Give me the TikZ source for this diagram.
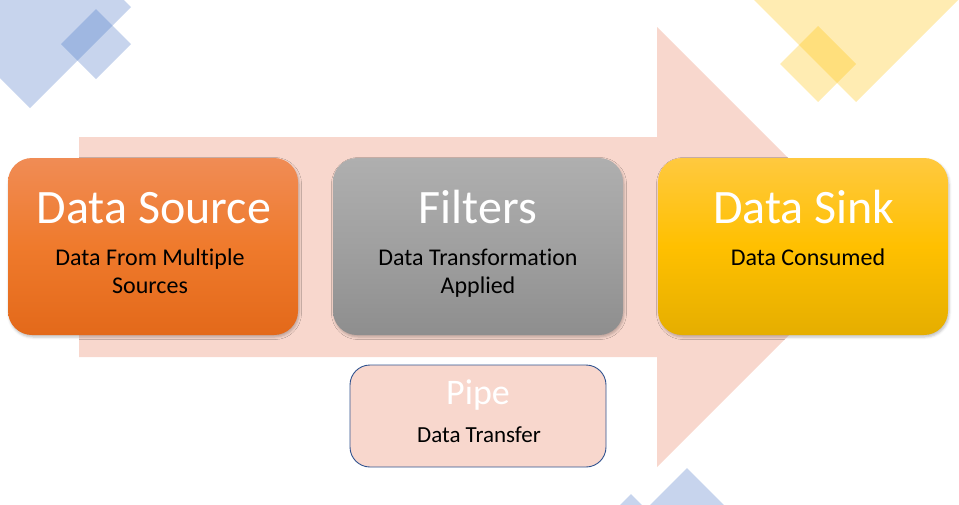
\documentclass[tikz,border=0pt]{standalone}
\usepackage{fontspec}
\setmainfont{Carlito}[Ligatures=NoCommon]
\usetikzlibrary{shadows.blur}
\definecolor{pinkA}{HTML}{F8D7CD}
\definecolor{blueD}{HTML}{4472C4}
\definecolor{yellowD}{HTML}{FFC000}
\definecolor{pipeBorder}{HTML}{2F528F}
\definecolor{orT}{HTML}{F08C55}
\definecolor{orM}{HTML}{EF7A2C}
\definecolor{orB}{HTML}{E3691A}
\definecolor{grT}{HTML}{AFAFAF}
\definecolor{grM}{HTML}{A0A0A0}
\definecolor{grB}{HTML}{8E8E8E}
\definecolor{yeT}{HTML}{FFC93F}
\definecolor{yeM}{HTML}{FFC000}
\definecolor{yeB}{HTML}{E5AE00}
\tikzset{
  deco/.style={opacity=0.3},
  stagebox/.style={rectangle, rounded corners=24pt, minimum width=290pt, minimum height=177pt,
    inner sep=0pt, draw=none,
    blur shadow={shadow xshift=1pt, shadow yshift=-2pt, shadow blur radius=2.5pt, shadow opacity=25}},
  titletext/.style={font=\fontsize{48}{52}\selectfont, text=white, anchor=base, inner sep=0pt},
  subtext/.style={font=\fontsize{24}{28}\selectfont, text=black, anchor=base, inner sep=0pt, align=center},
}
\begin{document}
\begin{tikzpicture}[x=1pt, y=-1pt]
\useasboundingbox (0,0) rectangle (959,504);
% decorative diamonds
\fill[blueD, deco] (30,-94) -- (131,7) -- (30,108) -- (-71,7) -- cycle;
\fill[blueD, deco] (96,9) -- (131,44) -- (96,79) -- (61,44) -- cycle;
\fill[yellowD, deco] (856,-110) -- (962,-4) -- (856,102) -- (750,-4) -- cycle;
\fill[yellowD, deco] (818,26) -- (856,64) -- (818,102) -- (780,64) -- cycle;
\fill[blueD, deco] (687,468) -- (788,569) -- (687,670) -- (586,569) -- cycle;
\fill[blueD, deco] (631,494) -- (666,529) -- (631,564) -- (596,529) -- cycle;
% big arrow
\fill[pinkA] (79,137) -- (657,137) -- (657,27) -- (877,247) -- (657,467) -- (657,357) -- (79,357) -- cycle;
% boxes
\node[stagebox, top color=orT, bottom color=orB, middle color=orM] (src) at (153,246.5) {};
\node[stagebox, top color=grT, bottom color=grB, middle color=grM] (flt) at (478,246.5) {};
\node[stagebox, top color=yeT, bottom color=yeB, middle color=yeM] (snk) at (803,246.5) {};
\node[rectangle, rounded corners=20pt, minimum width=256pt, minimum height=102pt, inner sep=0pt,
  fill=pinkA, draw=pipeBorder, line width=0.9pt] (pipe) at (478,416) {};
% texts
\node[titletext] (srcT) at (154,223) {Data Source};
\node[subtext] (srcS1) at (150,265) {Data From Multiple};
\node[subtext] (srcS2) at (150,293) {Sources};
\node[titletext] (fltT) at (478,223) {Filters};
\node[subtext] (fltS1) at (478,265) {Data Transformation};
\node[subtext] (fltS2) at (478,293) {Applied};
\node[titletext] (snkT) at (804,223) {Data Sink};
\node[subtext] (snkS1) at (808,265) {Data Consumed};
\node[titletext, font=\fontsize{36}{40}\selectfont] (pipeT) at (478,404) {Pipe};
\node[subtext, font=\fontsize{23}{26}\selectfont] (pipeS) at (479,442) {Data Transfer};
\end{tikzpicture}
\end{document}
